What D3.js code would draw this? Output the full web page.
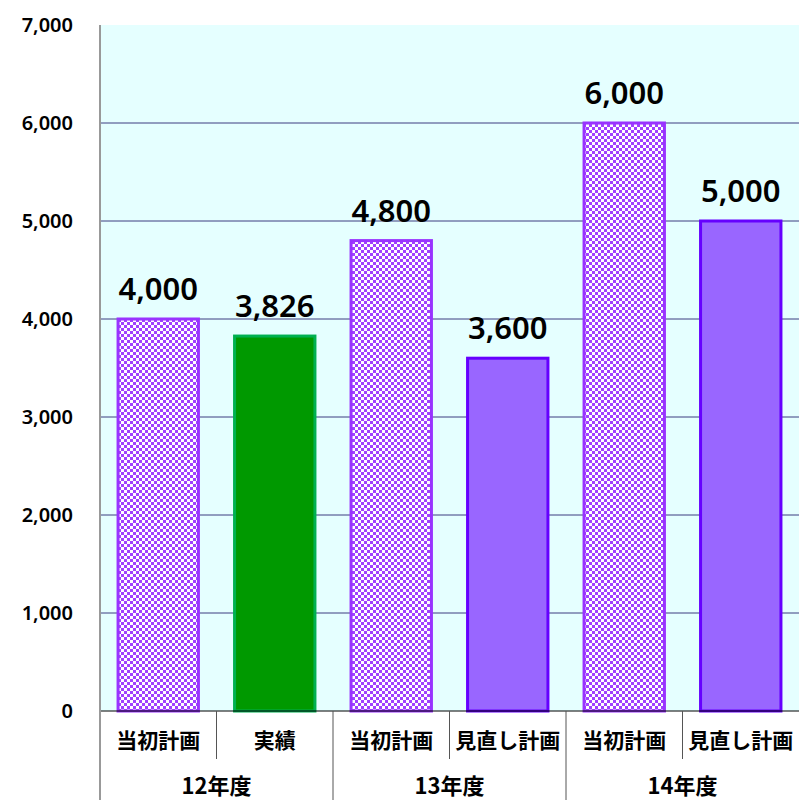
<!DOCTYPE html>
<html>
<head>
<meta charset="utf-8">
<script src="https://cdn.jsdelivr.net/npm/d3@7"></script>
<style>
  body { margin: 0; background: #fff; }
  text { font-family: "Noto Sans CJK JP", "Liberation Sans", sans-serif; }
</style>
</head>
<body>
<div id="chart"></div>
<script>
// Chart data
const categories = ["当初計画", "実績", "当初計画", "見直し計画", "当初計画", "見直し計画"];
const groups = ["12年度", "13年度", "14年度"];
const values = [4000, 3826, 4800, 3600, 6000, 5000];
const kinds = ["plan", "actual", "plan", "revised", "plan", "revised"];
const yTicks = [0, 1000, 2000, 3000, 4000, 5000, 6000, 7000];

const width = 799, height = 800;
const margin = { top: 25, right: 0, bottom: 89, left: 100 };
const innerW = width - margin.left - margin.right;
const innerH = height - margin.top - margin.bottom;

const svg = d3.select("#chart").append("svg")
    .attr("width", width)
    .attr("height", height);

// Checker pattern for the planned bars
const defs = svg.append("defs");
const pat = defs.append("pattern")
    .attr("id", "checker")
    .attr("patternUnits", "userSpaceOnUse")
    .attr("width", 6).attr("height", 6);
pat.append("rect").attr("width", 6).attr("height", 6).attr("fill", "#ffffff");
pat.append("rect").attr("width", 3).attr("height", 3).attr("fill", "#a040ff");
pat.append("rect").attr("x", 3).attr("y", 3).attr("width", 3).attr("height", 3).attr("fill", "#a040ff");

const g = svg.append("g")
    .attr("transform", `translate(${margin.left}, ${margin.top})`);

const x = d3.scaleBand()
    .domain(d3.range(categories.length))
    .range([0, innerW])
    .paddingInner(0.31)
    .paddingOuter(0.155);

const y = d3.scaleLinear()
    .domain([0, 7000])
    .range([innerH, 0]);

// Plot background
g.append("rect")
    .attr("width", innerW)
    .attr("height", innerH)
    .attr("fill", "#e5ffff");

// Gridlines
g.selectAll(".grid")
    .data(yTicks.filter(d => d > 0 && d < 7000))
    .enter().append("line")
    .attr("x1", 0).attr("x2", innerW)
    .attr("y1", d => y(d)).attr("y2", d => y(d))
    .attr("stroke", "#3c3c80")
    .attr("stroke-width", 1);

// Y axis labels
g.append("g")
    .call(d3.axisLeft(y).tickValues(yTicks).tickFormat(d3.format(",")).tickSize(0).tickPadding(27))
    .call(a => a.select(".domain").remove())
    .selectAll("text")
    .attr("font-size", 20)
    .attr("font-weight", 600)
    .attr("fill", "#000")
    .style("font-family", "'Noto Sans', 'Liberation Sans', sans-serif");

// Bars
const fills = { plan: "url(#checker)", actual: "#009900", revised: "#9966ff" };
const strokes = { plan: "#9933ff", actual: "#00b050", revised: "#6600ff" };

g.selectAll(".bar")
    .data(values)
    .enter().append("rect")
    .attr("x", (d, i) => x(i))
    .attr("y", d => y(d))
    .attr("width", x.bandwidth())
    .attr("height", d => innerH - y(d))
    .attr("fill", (d, i) => fills[kinds[i]])
    .attr("stroke", (d, i) => strokes[kinds[i]])
    .attr("stroke-width", 3);

// Value labels
g.selectAll(".val")
    .data(values)
    .enter().append("text")
    .attr("x", (d, i) => x(i) + x.bandwidth() / 2)
    .attr("y", d => y(d) - 19)
    .attr("text-anchor", "middle")
    .attr("font-size", 31)
    .attr("font-weight", 600)
    .attr("fill", "#000")
    .style("font-family", "'Noto Sans', 'Liberation Sans', sans-serif")
    .text(d3.format(","));

// Zero line
g.append("line")
    .attr("x1", 0).attr("x2", innerW)
    .attr("y1", innerH).attr("y2", innerH)
    .attr("stroke", "#000");

// Left axis line
g.append("line")
    .attr("x1", 0).attr("x2", 0)
    .attr("y1", 0).attr("y2", height - margin.top)
    .attr("stroke", "#999")
    .attr("stroke-width", 2);

// Category separators
const step = x.step();
const edge = i => x(i) - step * x.paddingInner() / 2;
g.selectAll(".sep")
    .data(d3.range(1, categories.length))
    .enter().append("line")
    .attr("x1", i => edge(i)).attr("x2", i => edge(i))
    .attr("y1", innerH)
    .attr("y2", i => i % 2 === 0 ? height - margin.top : innerH + 48)
    .attr("stroke", "#555")
    .attr("stroke-width", 1);

// Category labels
g.selectAll(".cat")
    .data(categories)
    .enter().append("text")
    .attr("x", (d, i) => x(i) + x.bandwidth() / 2)
    .attr("y", innerH + 37)
    .attr("text-anchor", "middle")
    .attr("font-size", 21)
    .attr("font-weight", "bold")
    .attr("fill", "#000")
    .text(d => d);

// Group labels
g.selectAll(".grp")
    .data(groups)
    .enter().append("text")
    .attr("x", (d, i) => (edge(i * 2) + (i === 2 ? innerW : edge(i * 2 + 2))) / 2)
    .attr("y", innerH + 83)
    .attr("text-anchor", "middle")
    .attr("font-size", 22)
    .attr("font-weight", "bold")
    .attr("fill", "#000")
    .text(d => d);
</script>
</body>
</html>
